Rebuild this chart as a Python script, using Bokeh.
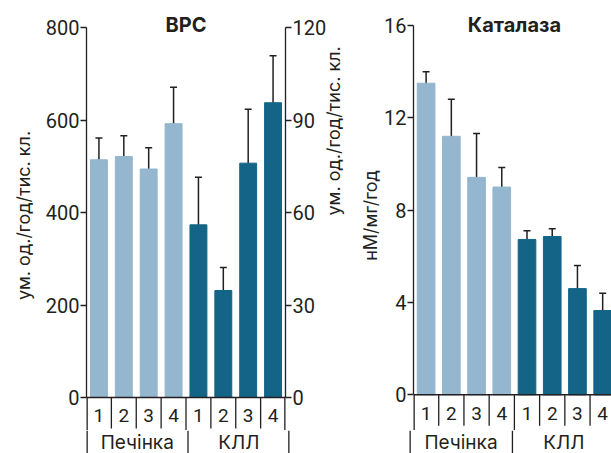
import math
from bokeh.plotting import figure
from bokeh.models import (Range1d, LinearAxis, FixedTicker, ColumnDataSource,
                          Whisker, TeeHead)
from bokeh.layouts import row, column
from bokeh.embed import file_html
from bokeh.resources import INLINE
from bokeh.core.properties import value

# ---------------- data ----------------
groups = ["Печінка", "КЛЛ"]
subcats = ["1", "2", "3", "4"]

vrs_liver = [514, 521, 494, 592]
vrs_liver_err = [47, 45, 46, 79]
vrs_cll = [56, 34.7, 76, 95.6]
vrs_cll_err = [15.4, 7.5, 17.5, 15.2]

cat_liver = [13.5, 11.2, 9.42, 9.0]
cat_liver_err = [0.5, 1.6, 1.9, 0.85]
cat_cll = [6.73, 6.86, 4.6, 3.65]
cat_cll_err = [0.38, 0.33, 1.0, 0.75]

vrs_ticks_left = [0, 200, 400, 600, 800]
vrs_ticks_right = [0, 30, 60, 90, 120]
cat_ticks = [0, 4, 8, 12, 16]

titles = ["ВРС", "Каталаза"]
ylabel_vrs = "ум. од./год/тис. кл."
ylabel_cat = "нМ/мг/год"

# ---------------- style ----------------
LIGHT = "#94b6cf"
DARK = "#136487"
INK = "#231f20"
FONT = "Inter"
TICK_FONT = "Roboto"
LW = 1.3
TOP_H = 430          # height of the plotting row
BOT_H = 453 - TOP_H  # height of the group-label row

n_sub = len(subcats)
x_liver = [i + 0.5 for i in range(n_sub)]
x_cll = [n_sub + i + 0.5 for i in range(n_sub)]
x_all = x_liver + x_cll
sub_labels = subcats * len(groups)
minor_sep = [1, 2, 3, 5, 6, 7]
group_x = [n_sub / 2, n_sub + n_sub / 2]


def style_yaxis(ax, ticks, top, label, standoff):
    ax.ticker = FixedTicker(ticks=ticks)
    ax.bounds = (0, top)
    ax.major_label_text_font = TICK_FONT
    ax.major_label_text_font_size = "20px"
    ax.major_label_text_color = INK
    ax.axis_line_color = INK
    ax.axis_line_width = LW
    ax.major_tick_line_color = INK
    ax.major_tick_line_width = LW
    ax.major_tick_out = 6
    ax.major_tick_in = 0
    ax.minor_tick_line_color = None
    ax.major_label_standoff = 1
    ax.axis_label = label
    ax.axis_label_text_font = FONT
    ax.axis_label_text_font_size = "18px"
    ax.axis_label_text_font_style = "normal"
    ax.axis_label_text_color = INK
    ax.axis_label_standoff = standoff


def base_fig(width, height, xr, yr, mbl, mbr):
    p = figure(width=width, height=height, x_range=xr, y_range=yr,
               output_backend="svg", toolbar_location=None,
               x_axis_location=None, y_axis_location=None,
               min_border_left=mbl, min_border_right=mbr,
               min_border_top=0, min_border_bottom=0)
    p.outline_line_color = None
    p.xgrid.visible = False
    p.ygrid.visible = False
    p.background_fill_color = "white"
    p.border_fill_color = "white"
    return p


def category_top(p, ymin, tick_len, num_y, xmax):
    """x-axis line, separators and sub-category numbers (upper part)."""
    p.segment(x0=[0], y0=[0], x1=[xmax], y1=[0], line_color=INK, line_width=LW)
    p.segment(x0=minor_sep, y0=[0] * len(minor_sep), x1=minor_sep,
              y1=[-tick_len] * len(minor_sep), line_color=INK, line_width=LW)
    p.segment(x0=[n_sub], y0=[0], x1=[n_sub], y1=[ymin], line_color=INK, line_width=LW)
    p.segment(x0=[0, xmax], y0=[0, 0], x1=[0, xmax], y1=[ymin, ymin],
              line_color=INK, line_width=2 * LW)
    p.text(x=x_all, y=[num_y] * len(x_all), text=sub_labels, text_font=value(TICK_FONT),
           text_font_size="19px", text_color=INK, text_align="center",
           text_baseline="middle")


def category_bottom(width, xr, mbl, mbr, grp_y):
    """lower part of the category axis: group names and long separators."""
    b = base_fig(width, BOT_H, xr, Range1d(0, BOT_H), mbl, mbr)
    b.segment(x0=[n_sub], y0=[BOT_H], x1=[n_sub], y1=[0], line_color=INK, line_width=LW)
    b.segment(x0=[0, 8], y0=[BOT_H, BOT_H], x1=[0, 8], y1=[0, 0],
              line_color=INK, line_width=2 * LW)
    b.text(x=group_x, y=[grp_y] * 2, text=groups, text_font=value(FONT),
           text_font_size="19px", text_color=INK, text_align="center",
           text_baseline="middle")
    return b


def errors(p, xs, vals, errs, range_name="default"):
    src = ColumnDataSource(dict(x=xs, lo=[v - e for v, e in zip(vals, errs)],
                                hi=[v + e for v, e in zip(vals, errs)]))
    w = Whisker(source=src, base="x", lower="lo", upper="hi",
                line_color=INK, line_width=1.5, y_range_name=range_name,
                lower_head=TeeHead(size=7, line_color=INK, line_width=1.5),
                upper_head=TeeHead(size=7, line_color=INK, line_width=1.5))
    p.add_layout(w)


W1 = 357
W2 = 611 - W1

# ================= left panel: ВРС =================
k1 = 0.4625           # px per unit
y1min = -(TOP_H - 397) / k1
y1max = 800 + 27 / k1
p1 = base_fig(W1, TOP_H, Range1d(0, 8), Range1d(y1min, y1max), 86, W1 - 289)
p1.extra_y_ranges = {"cll": Range1d(y1min * 120 / 800, y1max * 120 / 800)}
la = LinearAxis()
style_yaxis(la, vrs_ticks_left, 800, ylabel_vrs, 9)
p1.add_layout(la, "left")
ra = LinearAxis(y_range_name="cll")
style_yaxis(ra, vrs_ticks_right, 120, ylabel_vrs, 4)
if "axis_label_orientation" in ra.properties():
    ra.axis_label_orientation = math.pi / 2
p1.add_layout(ra, "right")

p1.vbar(x=x_liver, top=vrs_liver, width=0.68, color=LIGHT)
p1.vbar(x=x_cll, top=vrs_cll, width=0.68, color=DARK, y_range_name="cll")
errors(p1, x_liver, vrs_liver, vrs_liver_err)
errors(p1, x_cll, vrs_cll, vrs_cll_err, "cll")
category_top(p1, y1min, 31 / k1, -(415 - 397) / k1, 8)
p1.text(x=[4], y=[800 + 3 / k1], text=[titles[0]], text_font=value(FONT),
        text_font_style="bold", text_font_size="20px", text_color=INK,
        text_align="center", text_baseline="alphabetic")

# ================= right panel: Каталаза =================
k2 = 23.06
y2min = -(TOP_H - 394.3) / k2
y2max = 16 + 25 / k2
p2 = base_fig(W2, TOP_H, Range1d(0, 7.85), Range1d(y2min, y2max), 409 - W1, 0)
ca = LinearAxis()
style_yaxis(ca, cat_ticks, 16, ylabel_cat, 0)
p2.add_layout(ca, "left")
p2.vbar(x=x_liver, top=cat_liver, width=0.7, color=LIGHT)
p2.vbar(x=x_cll, top=cat_cll, width=0.7, color=DARK)
errors(p2, x_liver, cat_liver, cat_liver_err)
errors(p2, x_cll, cat_cll, cat_cll_err)
category_top(p2, y2min, 31 / k2, -(413.5 - 394.3) / k2, 8)
p2.text(x=[4], y=[16 + 1 / k2], text=[titles[1]], text_font=value(FONT),
        text_font_style="bold", text_font_size="20px", text_color=INK,
        text_align="center", text_baseline="alphabetic")

# ================= group-label row =================
b1 = category_bottom(W1, Range1d(0, 8), 86, W1 - 289, 453 - 442)
b2 = category_bottom(W2, Range1d(0, 7.85), 409 - W1, 0, 453 - 442)

layout = column(row(p1, p2), row(b1, b2))
open("out.html", "w").write(file_html(layout, INLINE))
